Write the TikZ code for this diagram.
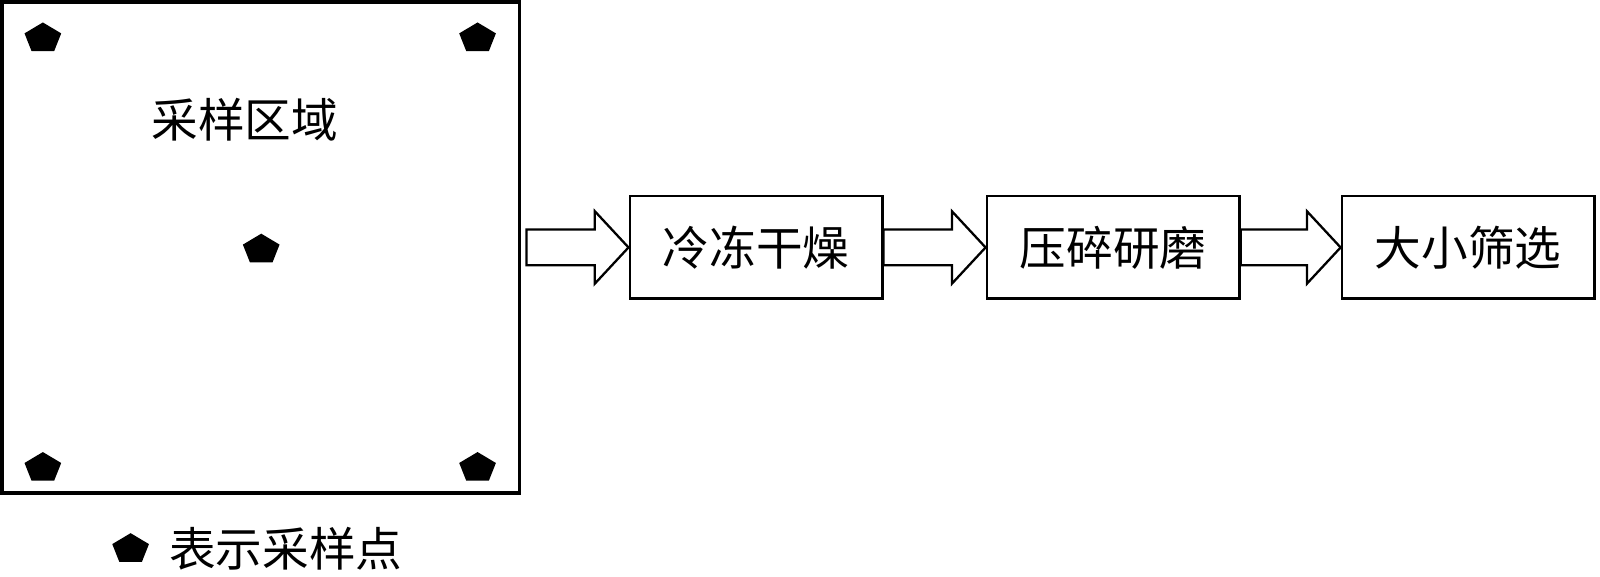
\documentclass[tikz,border=0pt]{standalone}
\usepackage{fontspec}
\usepackage{tikz}
\usetikzlibrary{positioning,calc,shapes.geometric}
\newfontfamily\cjk{Noto Sans CJK SC}
% hollow block arrow between two nodes: from, to, gap at the tail
\newcommand{\flowarrow}[3]{%
\draw[flow] ($(#1.east)+(#3,-17.5)$) -- ($(#2.west)+(-33,-17.5)$) -- ($(#2.west)+(-33,-35.5)$) -- (#2.west)
  -- ($(#2.west)+(-33,35.5)$) -- ($(#2.west)+(-33,17.5)$) -- ($(#1.east)+(#3,17.5)$) -- cycle;}

\begin{document}
\begin{tikzpicture}[x=0.02cm,y=-0.02cm,node distance=2cm,
  lbl/.style={font=\cjk\fontsize{26}{30}\selectfont,inner sep=0pt},
  stepbox/.style={lbl,draw,line width=0.05cm,minimum width=4.95cm,minimum height=2.01cm},
  spot/.style={regular polygon,regular polygon sides=5,fill=black,inner sep=0pt,minimum size=0.756cm,yscale=0.82},
  flow/.style={line width=0.045cm,fill=white,line join=miter}]
\useasboundingbox (0,0) rectangle (1568,565);
% sampling area
\node[draw,line width=0.07cm,minimum width=10.15cm,minimum height=9.63cm,inner sep=0pt] (area) at (255.5,242.5) {};
\node[lbl] (title) at (240,117) {采样区域};
\foreach \p/\x/\y in {tl/42/37.5,tr/468/37.5,c/256/244.5,bl/42/458.5,br/468/458.5}
  \node[spot] (pt\p) at (\x,\y) {};
\node[spot] (key) at (128,538) {};
\node[lbl] (keytext) at (280,538) {表示采样点};
% processing steps
\node[stepbox,right=2.1cm of area] (dry) {冷冻干燥};
\node[stepbox,right=of dry] (crush) {压碎研磨};
\node[stepbox,right=1.96cm of crush] (sieve) {大小筛选};
\flowarrow{area}{dry}{5}
\flowarrow{dry}{crush}{0}
\flowarrow{crush}{sieve}{0}
\end{tikzpicture}
\end{document}
